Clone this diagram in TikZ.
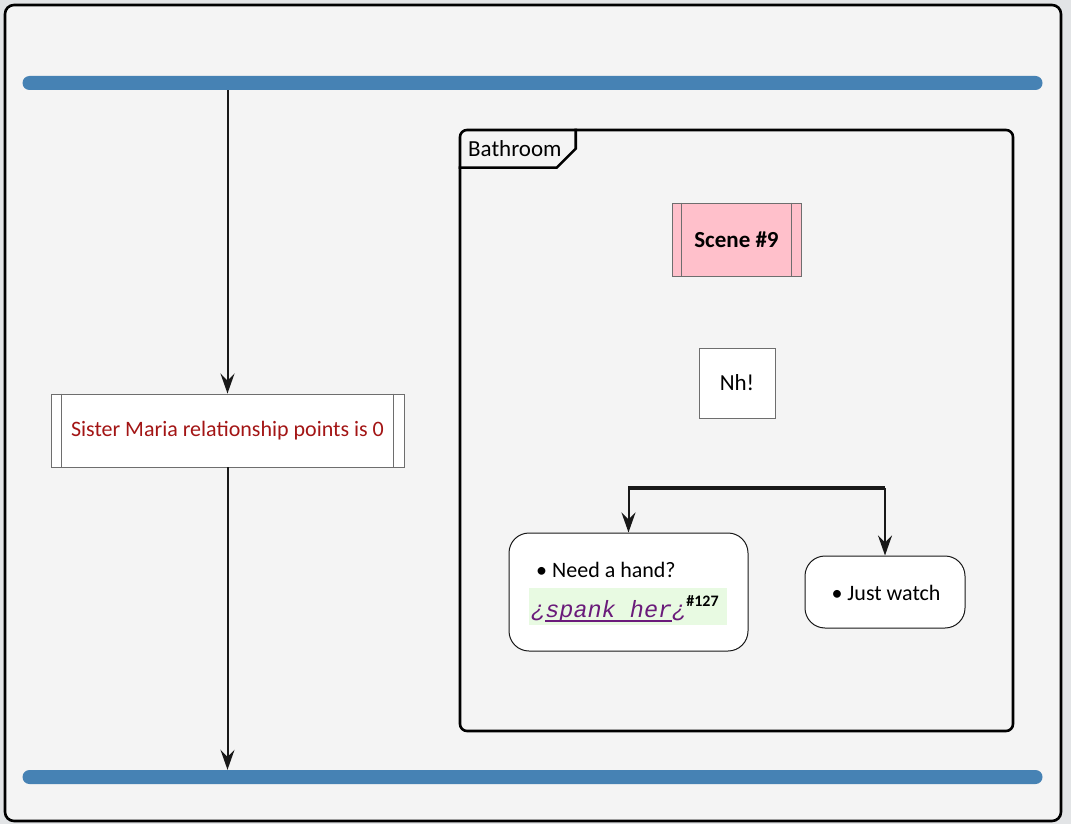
\documentclass[tikz,border=0pt]{standalone}
\usepackage{fontspec}
\setmainfont{Carlito}
\newfontfamily\codefont{Liberation Mono}
\usetikzlibrary{arrows.meta}
\definecolor{bg}{HTML}{F4F4F4}
\definecolor{outside}{HTML}{E2E4E6}
\definecolor{barblue}{HTML}{4682B4}
\definecolor{darkred}{HTML}{A31515}
\definecolor{scenepink}{HTML}{FFC0CB}
\definecolor{boxgray}{HTML}{6E6E6E}
\definecolor{linkpurple}{HTML}{6A1B7A}
\definecolor{hlgreen}{HTML}{E8FAE2}
\definecolor{ink}{HTML}{181818}
\newcommand\thickul[1]{\setbox0\hbox{#1}\rlap{\rule[-4.5pt]{\wd0}{1.6pt}}\box0}
\tikzset{
  syncbar/.style={fill=barblue, draw=none, rounded corners=7pt, minimum height=14pt, inner sep=0pt},
  procbox/.style={draw=boxgray, line width=0.9pt, fill=white, inner sep=0pt, font=\fontsize{22}{26}\selectfont},
  choicebox/.style={draw=ink, line width=1pt, fill=white, rounded corners=20pt, inner sep=0pt},
  arr/.style={draw=ink, line width=2pt, -{Stealth[length=20pt,width=14pt,inset=7pt]}},
  lbl/.style={inner sep=0pt, font=\fontsize{22}{26}\selectfont}
}
\begin{document}
\begin{tikzpicture}[x=1pt,y=-1pt]
\fill[outside] (0,0) rectangle (1071,824);
\useasboundingbox (0,0) rectangle (1071,824);
% outer frame
\node[draw=black, line width=2.6pt, fill=bg, rounded corners=9pt, minimum width=1056pt, minimum height=816pt, inner sep=0pt] (frame) at (533,413) {};
% sync bars
\node[syncbar, minimum width=1020pt] (topbar) at (532.5,83) {};
\node[syncbar, minimum width=1020pt] (botbar) at (532.5,777) {};
% left activity
\node[procbox, text=darkred, minimum width=353pt, minimum height=73pt] (maria) at (227.5,430.5) {Sister Maria relationship points is 0};
\draw[boxgray, line width=0.9pt] ([xshift=11pt]maria.north west) -- ([xshift=11pt]maria.south west);
\draw[boxgray, line width=0.9pt] ([xshift=-11pt]maria.north east) -- ([xshift=-11pt]maria.south east);
\draw[arr] (topbar.south -| maria.north) -- (maria.north);
\draw[arr] (maria.south) -- (maria.south |- botbar.north);
% Bathroom partition
\node[draw=black, line width=2.6pt, rounded corners=7pt, minimum width=553pt, minimum height=601pt, inner sep=0pt] (bathroom) at (736.5,430.5) {};
\node[lbl, anchor=west, font=\fontsize{23}{27}\selectfont] (bathlbl) at (468,149) {Bathroom};
\draw[black, line width=2.6pt] ([xshift=117pt]bathroom.north west) -- ++(0,20) -- ++(-19,19) -- ([yshift=-39pt]bathroom.north west);
% scene
\node[procbox, fill=scenepink, minimum width=129pt, minimum height=73pt, font=\fontsize{23}{27}\selectfont\bfseries] (scene) at (736.5,239.5) {Scene \#9};
\draw[boxgray, line width=0.9pt] ([xshift=10pt]scene.north west) -- ([xshift=10pt]scene.south west);
\draw[boxgray, line width=0.9pt] ([xshift=-10pt]scene.north east) -- ([xshift=-10pt]scene.south east);
% Nh!
\node[procbox, minimum width=76pt, minimum height=70pt, font=\fontsize{23}{27}\selectfont] (nh) at (737,383) {Nh!};
% split
\node[fill=ink, draw=none, inner sep=0pt, minimum width=257pt, minimum height=3.4pt] (split) at (756.5,488) {};
\node[choicebox, minimum width=239pt, minimum height=118pt] (need) at (628.5,592) {};
\node[choicebox, minimum width=160pt, minimum height=72pt] (watch) at (885,592) {};
\draw[arr] (split.center -| need.north) -- (need.north);
\draw[arr] (split.center -| watch.north) -- (watch.north);
% choice contents
\node[lbl, anchor=west] (needtxt) at (536,570) {\textbullet\ Need a hand?};
\node[fill=hlgreen, inner sep=0pt, minimum width=198pt, minimum height=37pt] (hl) at (628,606.5) {};
\node[inner sep=0pt, anchor=west] (code) at (531,609) {{\color{linkpurple}\codefont\itshape\fontsize{23.5}{27}\selectfont ¿\thickul{spank her}¿}{\fontsize{16}{19}\selectfont\raisebox{11pt}{\bfseries\#127}}};
\node[lbl] (watchtxt) at (886,593) {\textbullet\ Just watch};
\end{tikzpicture}
\end{document}
